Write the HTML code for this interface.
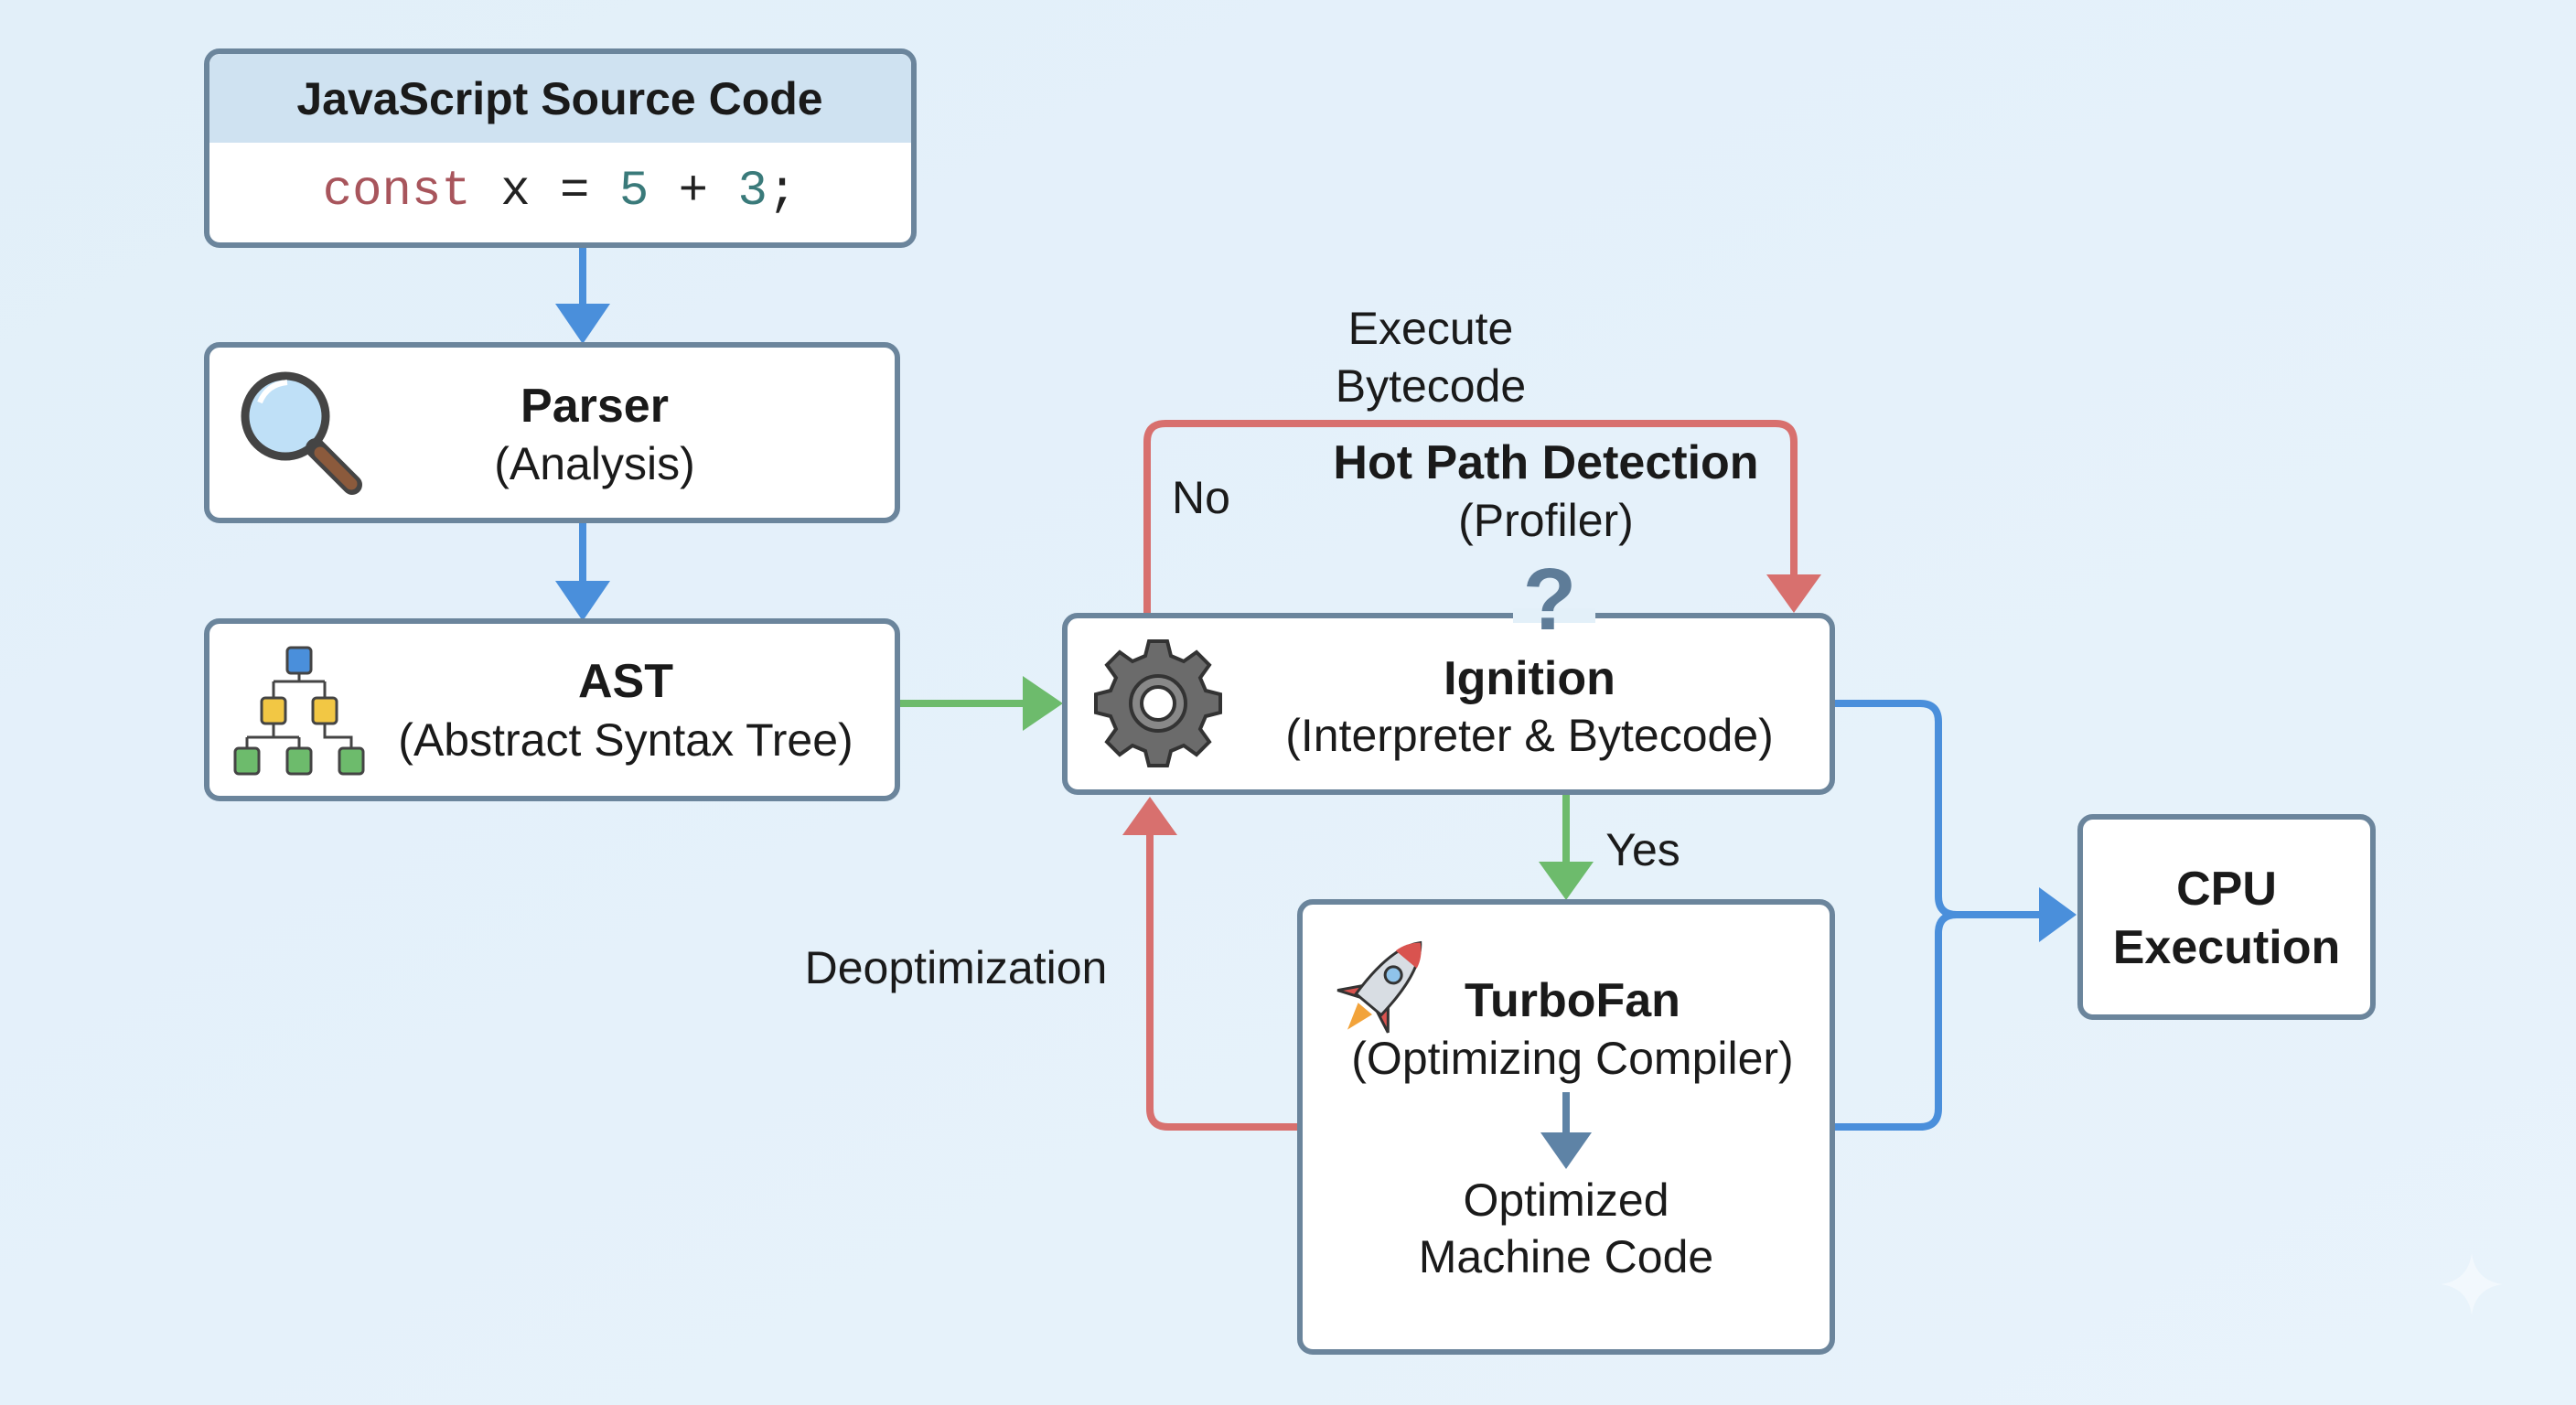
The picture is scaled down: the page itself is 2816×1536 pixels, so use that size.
<!DOCTYPE html>
<html><head><meta charset="utf-8"><style>
html,body{margin:0;padding:0;background:#e4f1fa}
svg{display:block}
text{font-family:"Liberation Sans",sans-serif;fill:#1a1a1a}
.b{font-weight:bold}
</style></head><body>
<svg width="2816" height="1536" viewBox="0 0 2816 1536" xmlns="http://www.w3.org/2000/svg">
<defs>
<linearGradient id="bg" x1="0" y1="0" x2="1" y2="1"><stop offset="0" stop-color="#e2eff9"/><stop offset="1" stop-color="#e8f3fb"/></linearGradient>
</defs>
<rect width="2816" height="1536" fill="url(#bg)"/>

<g fill="none" stroke-width="8" stroke-linejoin="round">
<line x1="637" y1="268" x2="637" y2="340" stroke="#4a8fdb"/>
<line x1="637" y1="569" x2="637" y2="643" stroke="#4a8fdb"/>
<line x1="984" y1="769" x2="1125" y2="769" stroke="#6dbb6c"/>
<path d="M1254 673 V483 Q1254 463 1274 463 H1941 Q1961 463 1961 483 V636" stroke="#d8706e"/>
<line x1="1712" y1="866" x2="1712" y2="950" stroke="#6dbb6c"/>
<path d="M1421 1232 H1277 Q1257 1232 1257 1212 V905" stroke="#d8706e"/>
<path d="M2003 769 H2099 Q2119 769 2119 789 V980 Q2119 1000 2139 1000 H2235" stroke="#4a8fdb"/>
<path d="M2003 1232 H2099 Q2119 1232 2119 1212 V1020 Q2119 1000 2139 1000" stroke="#4a8fdb"/>
</g>
<g stroke="none">
<polygon points="607,332 667,332 637,376" fill="#4a8fdb"/>
<polygon points="607,635 667,635 637,679" fill="#4a8fdb"/>
<polygon points="1118,739 1118,799 1162,769" fill="#6dbb6c"/>
<polygon points="1931,628 1991,628 1961,670" fill="#d8706e"/>
<polygon points="1682,942 1742,942 1712,984" fill="#6dbb6c"/>
<polygon points="1227,913 1287,913 1257,871" fill="#d8706e"/>
<polygon points="2229,970 2229,1030 2270,1000" fill="#4a8fdb"/>
</g>

<rect x="226" y="56" width="773" height="212" rx="14" fill="#fff" stroke="#6b859c" stroke-width="6"/>
<path d="M229 156 V72 Q229 59 242 59 H983 Q996 59 996 72 V156 Z" fill="#cfe2f1"/>
<text x="612" y="125" font-size="50" text-anchor="middle" class="b">JavaScript Source Code</text>
<text x="612" y="223" font-size="54" text-anchor="middle" style="font-family:'Liberation Mono',monospace"><tspan fill="#a8555c">const</tspan> <tspan fill="#222">x = </tspan><tspan fill="#3a7a7a">5</tspan><tspan fill="#222"> + </tspan><tspan fill="#3a7a7a">3</tspan><tspan fill="#222">;</tspan></text>

<rect x="226" y="377" width="755" height="192" rx="14" fill="#fff" stroke="#6b859c" stroke-width="6"/>
<circle cx="312" cy="455" r="44" fill="#bfe0f7" stroke="#444" stroke-width="9"/>
<path d="M284 440 Q292 420 314 418" stroke="#fff" stroke-width="6" fill="none"/>
<line x1="345" y1="490" x2="385" y2="530" stroke="#444" stroke-width="22" stroke-linecap="round"/>
<line x1="350" y1="495" x2="384" y2="529" stroke="#8b5a3c" stroke-width="13" stroke-linecap="round"/>
<text x="650" y="461" font-size="52" text-anchor="middle" class="b">Parser</text>
<text x="650" y="524" font-size="50" text-anchor="middle">(Analysis)</text>

<rect x="226" y="679" width="755" height="194" rx="14" fill="#fff" stroke="#6b859c" stroke-width="6"/>
<g stroke="#444" stroke-width="3" fill="none">
<path d="M327 723 V745 M299 745 H355 M299 745 V763 M355 745 V763 M299 791 V806 M270 806 H327 M270 806 V818 M327 806 V818 M355 791 V806 H384 V818"/>
</g>
<g stroke="#444" stroke-width="3">
<rect x="314" y="708" width="26" height="28" rx="4" fill="#4a8fdb"/>
<rect x="286" y="763" width="26" height="28" rx="4" fill="#f2c744"/>
<rect x="342" y="763" width="26" height="28" rx="4" fill="#f2c744"/>
<rect x="257" y="818" width="26" height="28" rx="4" fill="#6dbb6c"/>
<rect x="314" y="818" width="26" height="28" rx="4" fill="#6dbb6c"/>
<rect x="371" y="818" width="26" height="28" rx="4" fill="#6dbb6c"/>
</g>
<text x="684" y="762" font-size="52" text-anchor="middle" class="b">AST</text>
<text x="684" y="826" font-size="50" text-anchor="middle">(Abstract Syntax Tree)</text>

<rect x="1164" y="673" width="839" height="193" rx="14" fill="#fff" stroke="#6b859c" stroke-width="6"/>
<rect x="1654" y="665" width="90" height="16" fill="#e3f0f9"/>
<text x="1694" y="688" font-size="96" text-anchor="middle" class="b" style="fill:#5e7c98">?</text>
<g transform="translate(1266 769)">
<g fill="#6b6b6b" stroke="#333" stroke-width="4">
<path d="M-10 -68 H10 L14 -52 L28 -46 L42 -56 L56 -42 L46 -28 L52 -14 L68 -10 V10 L52 14 L46 28 L56 42 L42 56 L28 46 L14 52 L10 68 H-10 L-14 52 L-28 46 L-42 56 L-56 42 L-46 28 L-52 14 L-68 10 V-10 L-52 -14 L-46 -28 L-56 -42 L-42 -56 L-28 -46 L-14 -52 Z"/>
</g>
<circle r="30" fill="#888" stroke="#333" stroke-width="4"/>
<circle r="18" fill="#fff" stroke="#333" stroke-width="4"/>
</g>
<text x="1672" y="759" font-size="52" text-anchor="middle" class="b">Ignition</text>
<text x="1672" y="821" font-size="50" text-anchor="middle">(Interpreter &amp; Bytecode)</text>

<rect x="1421" y="986" width="582" height="492" rx="14" fill="#fff" stroke="#6b859c" stroke-width="6"/>
<g transform="translate(1518 1072) rotate(40)">
<path d="M-16 20 L-36 44 L-12 34 Z M16 20 L36 44 L12 34 Z" fill="#d9534f" stroke="#333" stroke-width="3"/>
<path d="M-10 40 L0 70 L10 40 Z" fill="#f2a33a"/>
<path d="M0 -54 Q22 -30 18 34 H-18 Q-22 -30 0 -54 Z" fill="#d8dde3" stroke="#333" stroke-width="3"/>
<path d="M0 -54 Q12 -44 15 -30 H-15 Q-12 -44 0 -54 Z" fill="#d9534f"/>
<circle cx="0" cy="-8" r="9" fill="#8fc3ea" stroke="#333" stroke-width="3"/>
</g>
<text x="1719" y="1111" font-size="52" text-anchor="middle" class="b">TurboFan</text>
<text x="1719" y="1174" font-size="50" text-anchor="middle">(Optimizing Compiler)</text>
<line x1="1712" y1="1194" x2="1712" y2="1245" stroke="#5e83a6" stroke-width="8"/>
<polygon points="1684,1238 1740,1238 1712,1278" fill="#5e83a6"/>
<text x="1712" y="1329" font-size="50" text-anchor="middle">Optimized</text>
<text x="1712" y="1391" font-size="50" text-anchor="middle">Machine Code</text>

<rect x="2274" y="893" width="320" height="219" rx="14" fill="#fff" stroke="#6b859c" stroke-width="6"/>
<text x="2434" y="989" font-size="52" text-anchor="middle" class="b">CPU</text>
<text x="2434" y="1053" font-size="52" text-anchor="middle" class="b">Execution</text>

<text x="1564" y="376" font-size="50" text-anchor="middle">Execute</text>
<text x="1564" y="439" font-size="50" text-anchor="middle">Bytecode</text>
<text x="1690" y="523" font-size="52" text-anchor="middle" class="b">Hot Path Detection</text>
<text x="1690" y="586" font-size="50" text-anchor="middle">(Profiler)</text>
<text x="1313" y="561" font-size="50" text-anchor="middle">No</text>
<text x="1796" y="946" font-size="50" text-anchor="middle">Yes</text>
<text x="1045" y="1075" font-size="50" text-anchor="middle">Deoptimization</text>

<path d="M2702 1370 Q2706 1400 2736 1404 Q2706 1408 2702 1438 Q2698 1408 2668 1404 Q2698 1400 2702 1370 Z" fill="#f2f8fd"/>
</svg>
</body></html>
